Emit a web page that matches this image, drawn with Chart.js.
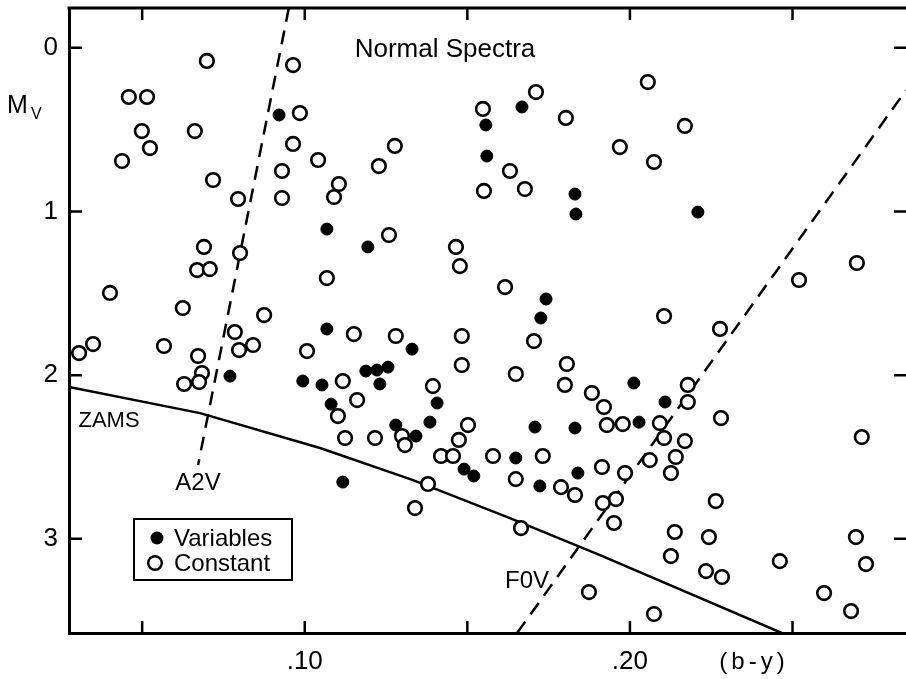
<!DOCTYPE html>
<html lang="en">
<head>
<meta charset="utf-8">
<title>Mv vs (b-y)</title>
<script src="https://cdn.jsdelivr.net/npm/chart.js"></script>
<style>
    body { margin: 0; background: #fff; }
    #chart { display: block; }
</style>
</head>
<body>
<canvas id="chart" width="906" height="679"></canvas>
<script>
// values: colour index (b-y) and absolute magnitude Mv
const variablesX = [0.0921, 0.1668, 0.1557, 0.1560, 0.1831, 0.1834, 0.1068, 0.2209, 0.0770, 0.0994, 0.1053, 0.1194,
    0.1068, 0.1330, 0.1188, 0.1222, 0.1256, 0.1231, 0.1081, 0.1407, 0.1385, 0.1280, 0.1342, 0.1742,
    0.1726, 0.1708, 0.1831, 0.2012, 0.2108, 0.2028, 0.1117, 0.1490, 0.1520, 0.1649, 0.1723, 0.1840];
const variablesY = [0.411, 0.362, 0.472, 0.662, 0.894, 1.016, 1.108, 1.004, 2.006, 2.036, 2.060, 1.217,
    1.718, 1.841, 1.975, 1.969, 1.951, 2.054, 2.177, 2.170, 2.287, 2.305, 2.372, 1.535,
    1.651, 2.317, 2.323, 2.048, 2.164, 2.287, 2.653, 2.574, 2.616, 2.506, 2.677, 2.598];

const constantX = [0.0699, 0.0964, 0.0459, 0.0515, 0.0985, 0.0499, 0.0662, 0.0524, 0.0964, 0.0438, 0.1041, 0.0718,
    0.0930, 0.0795, 0.0930, 0.1548, 0.1711, 0.1803, 0.1969, 0.1277, 0.1228, 0.1105, 0.1090, 0.1631,
    0.1677, 0.1551, 0.1259, 0.2055, 0.2169, 0.2074,
    0.0690, 0.0801, 0.0669, 0.0708, 0.0401, 0.0625, 0.0875, 0.0349, 0.0306, 0.0567, 0.0785, 0.0798,
    0.0841, 0.1007, 0.0672, 0.0684, 0.0675, 0.0629,
    0.1068, 0.1465, 0.1477, 0.1616, 0.1151, 0.1280, 0.1483, 0.1705, 0.1483, 0.1649, 0.1806, 0.1800,
    0.1883, 0.1920, 0.1929, 0.1117, 0.1161, 0.1394, 0.1102, 0.1124, 0.1216, 0.1299, 0.1308, 0.1502,
    0.1474, 0.1419, 0.1456, 0.1579, 0.1732,
    0.2698, 0.2520, 0.2105, 0.2277, 0.2178, 0.2178, 0.1978, 0.2092, 0.2280, 0.2105, 0.2169, 0.2713,
    0.1379, 0.1339, 0.1649, 0.1788, 0.1831, 0.1914, 0.1917, 0.1957, 0.1951, 0.1665, 0.1874,
    0.2061, 0.2141, 0.2126, 0.1985, 0.2264, 0.2138, 0.2243, 0.2126, 0.2234, 0.2283, 0.2074, 0.2461,
    0.2695, 0.2726, 0.2597, 0.2680];
const constantY = [0.081, 0.106, 0.301, 0.301, 0.399, 0.509, 0.509, 0.613, 0.588, 0.692, 0.686, 0.808,
    0.753, 0.924, 0.918, 0.374, 0.271, 0.429, 0.607, 0.600, 0.723, 0.833, 0.912, 0.753,
    0.863, 0.875, 1.144, 0.210, 0.478, 0.698,
    1.217, 1.254, 1.358, 1.352, 1.498, 1.590, 1.633, 1.810, 1.865, 1.822, 1.737, 1.847,
    1.816, 1.853, 1.883, 1.987, 2.042, 2.054,
    1.407, 1.217, 1.334, 1.462, 1.749, 1.761, 1.761, 1.792, 1.938, 1.993, 1.932, 2.060,
    2.109, 2.195, 2.305, 2.036, 2.152, 2.067, 2.250, 2.384, 2.384, 2.372, 2.427, 2.305,
    2.396, 2.494, 2.494, 2.494, 2.494,
    1.315, 1.419, 1.639, 1.718, 2.060, 2.164, 2.299, 2.293, 2.262, 2.384, 2.403, 2.378,
    2.665, 2.812, 2.635, 2.684, 2.732, 2.561, 2.781, 2.757, 2.903, 2.934, 3.325,
    2.519, 2.500, 2.598, 2.598, 2.769, 2.958, 2.989, 3.105, 3.197, 3.233, 3.459, 3.136,
    2.989, 3.154, 3.331, 3.441];

// reference lines
const zamsX = [0.0275, 0.0678, 0.1047, 0.1333, 0.1631, 0.1908, 0.2467];
const zamsY = [2.073, 2.232, 2.445, 2.641, 2.873, 3.099, 3.575];
const a2vX = [0.0951, 0.0672];
const a2vY = [-0.2425, 2.549];
const f0vX = [0.1653, 0.2849];
const f0vY = [3.575, 0.26];

const xTicks = [0.05, 0.10, 0.15, 0.20, 0.25];
const xTickLabels = ['', '.10', '', '.20', ''];
const yTicks = [0, 1, 2, 3];

const FONT = '"Liberation Sans", Arial, sans-serif';
Chart.defaults.font.family = FONT;
Chart.defaults.color = '#000';

const pts = (xs, ys) => xs.map((x, i) => ({ x: x, y: ys[i] }));

// no extra room for overhanging tick labels, the frame fills the page
const noPad = s => { s.paddingTop = 0; s.paddingBottom = 0; s.paddingLeft = 0; s.paddingRight = 0; };

// inward ticks, top frame line, labels and the boxed key
const frame = {
    id: 'frame',
    afterDraw(chart) {
        const { ctx, chartArea: a, scales: { x, y } } = chart;
        ctx.save();
        ctx.strokeStyle = '#000';
        ctx.lineWidth = 3;
        ctx.beginPath();
        ctx.moveTo(a.left - 1.5, a.top);
        ctx.lineTo(a.right, a.top);
        ctx.stroke();

        ctx.lineWidth = 2.5;
        ctx.beginPath();
        xTicks.forEach(v => {
            const p = x.getPixelForValue(v);
            ctx.moveTo(p, a.bottom); ctx.lineTo(p, a.bottom - 12);
            ctx.moveTo(p, a.top); ctx.lineTo(p, a.top + 12);
        });
        yTicks.forEach(v => {
            const p = y.getPixelForValue(v);
            ctx.moveTo(a.left, p); ctx.lineTo(a.left + 13, p);
            ctx.moveTo(a.right, p); ctx.lineTo(a.right - 12, p);
        });
        ctx.stroke();

        ctx.fillStyle = '#000';
        ctx.textBaseline = 'middle';
        ctx.textAlign = 'center';
        ctx.font = '26px ' + FONT;
        ctx.fillText('Normal Spectra', 445, 50);
        ctx.font = '22px ' + FONT;
        ctx.fillText('ZAMS', 109, 421);
        ctx.font = '24px ' + FONT;
        ctx.fillText('A2V', 198, 483);
        ctx.fillText('F0V', 527, 581);
        ctx.letterSpacing = '4px';
        ctx.fillText('(b-y)', 754, 662);
        ctx.letterSpacing = '0px';

        ctx.textAlign = 'left';
        ctx.font = '25px ' + FONT;
        ctx.fillText('M', 7, 106);
        ctx.font = '16px ' + FONT;
        ctx.fillText('V', 31, 115);

        // key
        ctx.lineWidth = 2;
        ctx.strokeRect(134, 519, 158, 61);
        ctx.beginPath();
        ctx.arc(157, 538, 6.5, 0, Math.PI * 2);
        ctx.fill();
        ctx.lineWidth = 2.4;
        ctx.beginPath();
        ctx.arc(155, 563, 6.8, 0, Math.PI * 2);
        ctx.stroke();
        ctx.font = '24px ' + FONT;
        ctx.fillText('Variables', 174, 539);
        ctx.fillText('Constant', 174, 564);
        ctx.restore();
    }
};

const lineStyle = {
    type: 'line', showLine: true, pointRadius: 0, borderColor: '#000',
    borderWidth: 2.5, fill: false, tension: 0, order: 2
};

new Chart(document.getElementById('chart'), {
    type: 'scatter',
    data: {
        datasets: [
            {
                label: 'Variables', data: pts(variablesX, variablesY), order: 0,
                pointRadius: 6, pointBackgroundColor: '#000', pointBorderColor: '#000', pointBorderWidth: 1
            },
            {
                label: 'Constant', data: pts(constantX, constantY), order: 1,
                pointRadius: 6.8, pointBackgroundColor: '#fff', pointBorderColor: '#000', pointBorderWidth: 2.6
            },
            Object.assign({ label: 'ZAMS', data: pts(zamsX, zamsY) }, lineStyle),
            Object.assign({ label: 'A2V', data: pts(a2vX, a2vY), borderDash: [14, 9] }, lineStyle),
            Object.assign({ label: 'F0V', data: pts(f0vX, f0vY), borderDash: [14, 9] }, lineStyle)
        ]
    },
    options: {
        responsive: false,
        animation: false,
        devicePixelRatio: 1,
        events: [],
        layout: { autoPadding: false, padding: { top: 8, right: 0, bottom: 0, left: 0 } },
        plugins: { legend: { display: false }, tooltip: { enabled: false } },
        scales: {
            x: {
                type: 'linear', min: 0.0275, max: 0.2849,
                grid: { display: false, drawTicks: false },
                border: { display: true, color: '#000', width: 3 },
                afterBuildTicks: s => { s.ticks = xTicks.map(v => ({ value: v })); },
                afterFit: s => { s.height = 46; noPad(s); },
                ticks: {
                    padding: 13, maxRotation: 0, autoSkip: false,
                    font: { size: 26 },
                    callback: v => { const i = xTicks.indexOf(v); return i >= 0 ? xTickLabels[i] : ''; }
                }
            },
            y: {
                type: 'linear', reverse: true, min: -0.2425, max: 3.575,
                grid: { display: false, drawTicks: false },
                border: { display: true, color: '#000', width: 3 },
                afterBuildTicks: s => { s.ticks = yTicks.map(v => ({ value: v })); },
                afterFit: s => { s.width = 69; noPad(s); },
                ticks: { padding: 11, autoSkip: false, font: { size: 26 }, callback: v => String(v) }
            }
        }
    },
    plugins: [frame]
});
</script>
</body>
</html>
